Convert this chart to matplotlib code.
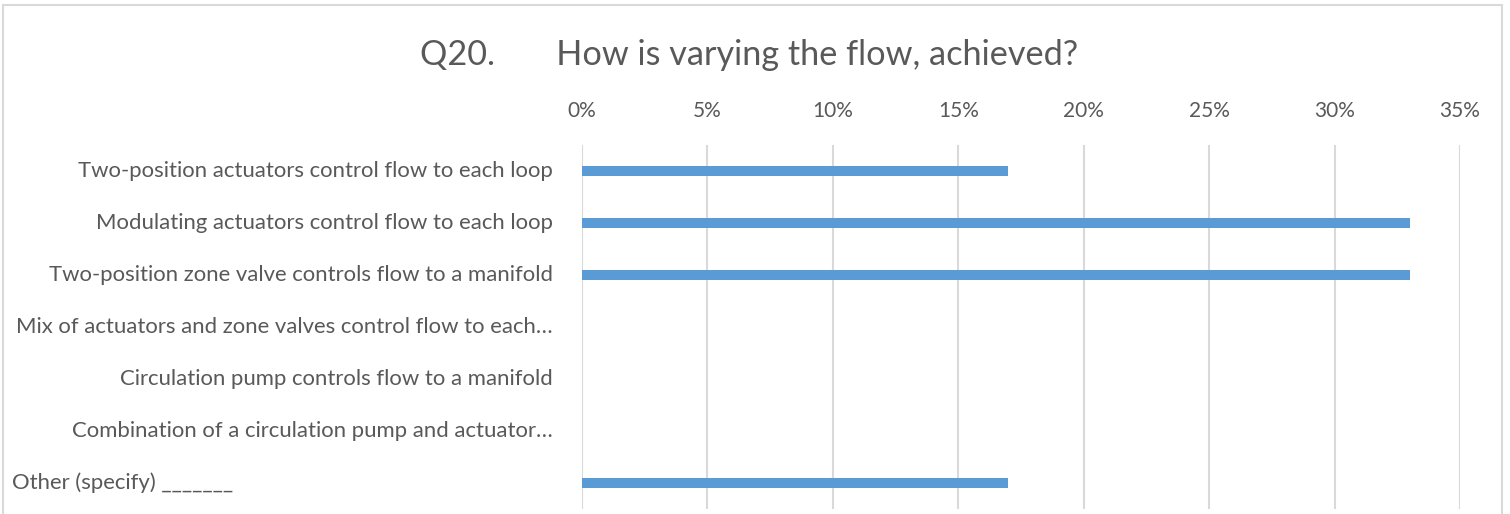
import matplotlib
matplotlib.use("Agg")
import matplotlib.pyplot as plt
from matplotlib.patches import Rectangle
from matplotlib.ticker import PercentFormatter
import matplotlib.transforms as mtransforms

plt.rcParams['font.family'] = ['Lato', 'DejaVu Sans']

# data
categories = [
    "Two-position actuators control flow to each loop",
    "Modulating actuators control flow to each loop",
    "Two-position zone valve controls flow to a manifold",
    "Mix of actuators and zone valves control flow to each…",
    "Circulation pump controls flow to a manifold",
    "Combination of a circulation pump and actuator…",
    "Other (specify) _______",
]
shares = [0.17, 0.33, 0.33, 0.0, 0.0, 0.0, 0.17]
x_ticks = [0, 0.05, 0.10, 0.15, 0.20, 0.25, 0.30, 0.35]

grey_txt = '#595959'
bar_col = '#5b9bd5'
grid_col = '#d9d9d9'

fig = plt.figure(figsize=(15.1, 5.14), dpi=100)
ax = fig.add_axes([0.3854, 0.0097, 0.5815, 0.7082])

pos = list(range(len(categories)))
ax.barh(pos, shares, height=0.19, color=bar_col, zorder=3)
ax.set_ylim(len(categories) - 0.5, -0.5)
ax.set_xlim(0, 0.35)
ax.set_xticks(x_ticks)
ax.xaxis.set_major_formatter(PercentFormatter(1.0, decimals=0))
ax.xaxis.tick_top()
ax.tick_params(axis='x', length=0, pad=17, labelsize=15, labelcolor=grey_txt)
ax.set_yticks([])
ax.grid(axis='x', color=grid_col, linewidth=1.5, zorder=0)
for s in ax.spines.values():
    s.set_visible(False)

# category labels (last one sits flush left like the original)
right_tr = ax.transAxes + mtransforms.ScaledTranslation(-29 / 100, 0, fig.dpi_scale_trans)
for i, lab in enumerate(categories):
    yfrac = 1 - (i + 0.5) / len(categories)
    if i == len(categories) - 1:
        tr = mtransforms.blended_transform_factory(fig.transFigure, ax.transAxes)
        ax.text(12 / 1510, yfrac, lab, transform=tr, ha='left', va='center',
                fontsize=15.9, color=grey_txt)
    else:
        ax.text(0, yfrac, lab, transform=right_tr, ha='right', va='center',
                fontsize=15.9, color=grey_txt)

fig.text(0.496, 0.893, "Q20.       How is varying the flow, achieved?",
         ha='center', va='center', fontsize=24.7, color=grey_txt)

# chart border
fig.patches.append(Rectangle((3 / 1510, -0.05), 1499 / 1510, 1.05 - 5 / 514,
                             transform=fig.transFigure, fill=False,
                             edgecolor=grid_col, linewidth=1.5))

fig.savefig('out.png', dpi=100)
